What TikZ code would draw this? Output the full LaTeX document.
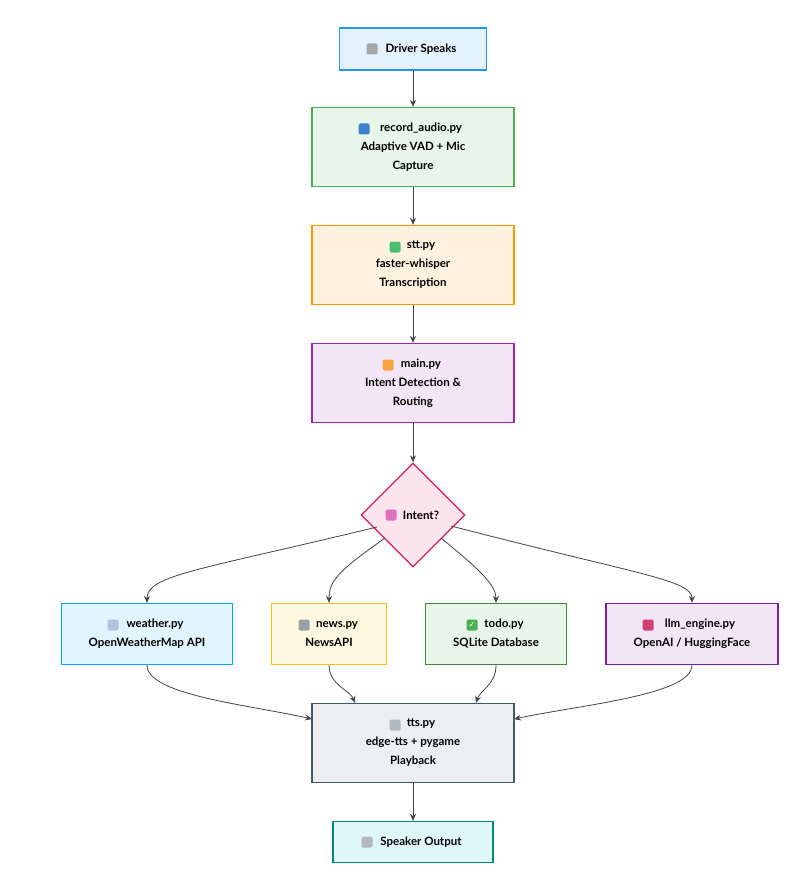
\documentclass[tikz,border=0pt]{standalone}
\usepackage{fontspec}
\setmainfont{Lato}
\newfontfamily\djv{DejaVu Sans}
\usetikzlibrary{shapes.geometric,arrows.meta}
\definecolor{ar}{HTML}{444444}
\definecolor{f1}{HTML}{E3F2FD}\definecolor{d1c}{HTML}{2196F3}
\definecolor{f2}{HTML}{E8F5E9}\definecolor{d2c}{HTML}{4CAF50}
\definecolor{f3}{HTML}{FFF3E0}\definecolor{d3c}{HTML}{FF9800}
\definecolor{f4}{HTML}{F3E5F5}\definecolor{d4c}{HTML}{9C27B0}
\definecolor{f5}{HTML}{FCE4EC}\definecolor{d5c}{HTML}{D81B60}
\definecolor{f6}{HTML}{E1F5FE}\definecolor{d6c}{HTML}{03A9F4}
\definecolor{f7}{HTML}{FFF8E1}\definecolor{d7c}{HTML}{FFC107}
\definecolor{d8c}{HTML}{388E3C}
\definecolor{d9c}{HTML}{7B1FA2}
\definecolor{f10}{HTML}{ECEFF1}\definecolor{d10c}{HTML}{455A64}
\definecolor{f11}{HTML}{E0F7FA}\definecolor{d11c}{HTML}{00897B}
\definecolor{i1}{HTML}{3F7FD0}\definecolor{i2}{HTML}{4CBF6E}\definecolor{i3}{HTML}{F7A540}
\definecolor{i4}{HTML}{E070C0}\definecolor{i5}{HTML}{B0C4DE}\definecolor{i6}{HTML}{9AA0A8}
\definecolor{i7}{HTML}{D04070}\definecolor{i8}{HTML}{B0B8C0}
\newcommand{\icsp}{\hspace{16pt}}
\begin{document}
\begin{tikzpicture}[x=1pt,y=-1pt,
  box/.style={draw, line width=1.3pt, align=center, font=\fontsize{11.5}{19}\selectfont\bfseries, inner sep=0pt},
  ed/.style={draw=ar, line width=0.8pt, -{Stealth[length=7pt,width=6pt]}},
  ic/.style={rounded corners=1.5pt, minimum size=11pt, inner sep=0pt}]
\useasboundingbox[fill=white] (0,0) rectangle (790,869);
\node[box, fill=f1, draw=d1c, minimum width=147pt, minimum height=42pt] (a) at (413,49) {\icsp Driver Speaks};
\node[box, fill=f2, draw=d2c, minimum width=202pt, minimum height=79pt] (b) at (413,147) {\icsp record\_audio.py\\Adaptive VAD + Mic\\Capture};
\node[box, fill=f3, draw=d3c, minimum width=202pt, minimum height=79pt] (c) at (413,265) {\icsp stt.py\\faster-whisper\\Transcription};
\node[box, fill=f4, draw=d4c, minimum width=202pt, minimum height=79pt] (m) at (413,383) {\icsp main.py\\Intent Detection \&\\Routing};
\node[box, diamond, fill=f5, draw=d5c, minimum width=104pt, minimum height=104pt] (d) at (413,515) {\icsp Intent?};
\node[box, fill=f6, draw=d6c, minimum width=171pt, minimum height=61pt] (w) at (147,634) {\icsp weather.py\\OpenWeatherMap API};
\node[box, fill=f7, draw=d7c, minimum width=115pt, minimum height=61pt] (n) at (329,634) {\icsp news.py\\NewsAPI};
\node[box, fill=f2, draw=d8c, minimum width=141pt, minimum height=61pt] (t) at (496,634) {\icsp todo.py\\SQLite Database};
\node[box, fill=f4, draw=d9c, minimum width=172pt, minimum height=61pt] (l) at (692,634) {\icsp llm\_engine.py\\OpenAI / HuggingFace};
\node[box, fill=f10, draw=d10c, minimum width=202pt, minimum height=79pt] (s) at (413,743) {\icsp tts.py\\edge-tts + pygame\\Playback};
\node[box, fill=f11, draw=d11c, minimum width=160pt, minimum height=41pt] (o) at (413,842) {\icsp Speaker Output};
% icons
\node[ic, fill=gray!70] (ia) at (372,49) {};
\node[ic, fill=i1] (ib) at (364,129) {};
\node[ic, fill=i2] (ic1) at (395,247) {};
\node[ic, fill=i3] (im) at (388,365) {};
\node[ic, fill=i4] (id) at (391,515) {};
\node[ic, fill=i5] (iw) at (113,625) {};
\node[ic, fill=i6] (in) at (304,625) {};
\node[ic, fill=d2c, text=white, font=\djv\fontsize{8}{8}\selectfont] (it) at (472,625) {✓};
\node[ic, fill=i7] (il) at (648,625) {};
\node[ic, fill=i8] (is) at (395,725) {};
\node[ic, fill=i8] (io) at (367,842) {};
% edges
\draw[ed] (a) -- (b);
\draw[ed] (b) -- (c);
\draw[ed] (c) -- (m);
\draw[ed] (m) -- (d);
\coordinate (d1) at (377,527);
\coordinate (d2) at (385,538);
\coordinate (d3) at (441,538);
\coordinate (d4) at (451,526);
\draw[ed] (d1) .. controls (200,570) and (147,575) .. (w.north);
\draw[ed] (d2) .. controls (340,570) and (329,580) .. (n.north);
\draw[ed] (d3) .. controls (480,570) and (496,585) .. (t.north);
\draw[ed] (d4) .. controls (640,575) and (692,580) .. (l.north);
\coordinate (s1) at (312,719);
\coordinate (s2) at (355,703);
\coordinate (s3) at (476,703);
\coordinate (s4) at (514,719);
\draw[ed] (w.south) .. controls (147,695) and (250,705) .. (s1);
\draw[ed] (n.south) .. controls (329,685) and (350,690) .. (s2);
\draw[ed] (t.south) .. controls (496,685) and (480,690) .. (s3);
\draw[ed] (l.south) .. controls (692,695) and (580,705) .. (s4);
\draw[ed] (s) -- (o);
\end{tikzpicture}
\end{document}
